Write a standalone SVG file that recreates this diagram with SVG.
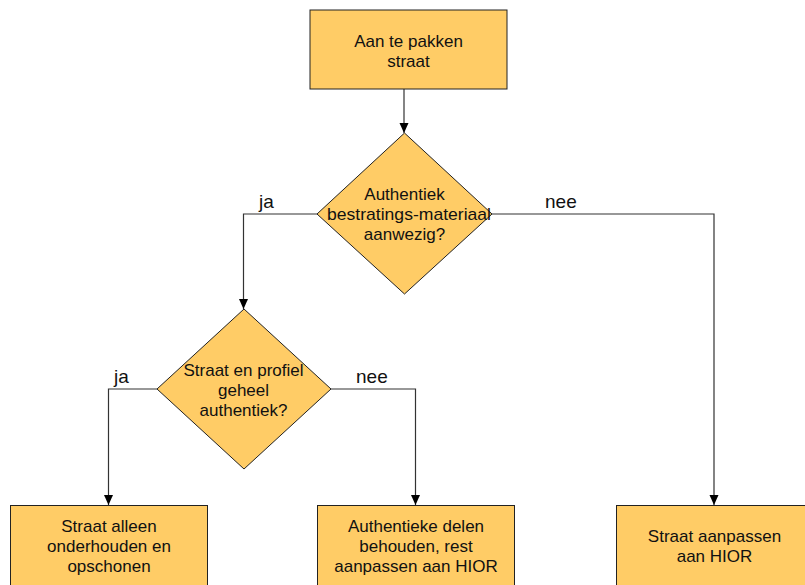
<svg xmlns="http://www.w3.org/2000/svg" width="805" height="585" viewBox="0 0 805 585">
<defs>
<style>
.box{fill:#FFCC66;stroke:#222;stroke-width:1}
.t{font-family:"Liberation Sans",Arial,sans-serif;font-size:17px;fill:#111;text-anchor:middle}
.lbl{font-family:"Liberation Sans",Arial,sans-serif;font-size:19px;fill:#111}
.c{fill:none;stroke:#333;stroke-width:1.2}
</style>
<marker id="ah" markerUnits="userSpaceOnUse" markerWidth="10" markerHeight="10" refX="10" refY="4.5" orient="auto">
<path d="M0,0 L10,4.5 L0,9 z" fill="#000"/>
</marker>
</defs>
<rect width="805" height="585" fill="#fff"/>
<g id="connectors">
<path class="c" d="M404,89 V133" marker-end="url(#ah)"/>
<path class="c" d="M317,214 H243.5 V309" marker-end="url(#ah)"/>
<path class="c" d="M492,214 H714 V505" marker-end="url(#ah)"/>
<path class="c" d="M157,389 H108.5 V505" marker-end="url(#ah)"/>
<path class="c" d="M331,389 H415.5 V505" marker-end="url(#ah)"/>
<text class="lbl" x="259" y="208">ja</text>
<text class="lbl" x="545" y="208">nee</text>
<text class="lbl" x="114" y="383">ja</text>
<text class="lbl" x="356" y="383">nee</text>
</g>
<g id="start">
<rect class="box" x="310" y="10" width="197" height="79"/>
<text class="t" x="408.5" y="47">Aan te pakken</text>
<text class="t" x="408.5" y="67">straat</text>
</g>
<g id="decision1">
<polygon class="box" points="404.5,133 492,214 404.5,294 317,214"/>
<text class="t" x="404.5" y="200">Authentiek</text>
<text class="t" x="409" y="220" textLength="164" lengthAdjust="spacingAndGlyphs">bestratings-materiaal</text>
<text class="t" x="404.5" y="240">aanwezig?</text>
</g>
<g id="decision2">
<polygon class="box" points="244,309 331,389 244,469 157,389"/>
<text class="t" x="243.5" y="376">Straat en profiel</text>
<text class="t" x="243.5" y="396">geheel</text>
<text class="t" x="243.5" y="416">authentiek?</text>
</g>
<g id="result1">
<rect class="box" x="10.5" y="505.5" width="197" height="85"/>
<text class="t" x="109" y="532">Straat alleen</text>
<text class="t" x="109" y="552">onderhouden en</text>
<text class="t" x="109" y="572">opschonen</text>
</g>
<g id="result2">
<rect class="box" x="317.5" y="505.5" width="197" height="85"/>
<text class="t" x="416" y="532">Authentieke delen</text>
<text class="t" x="416" y="552">behouden, rest</text>
<text class="t" x="416" y="572">aanpassen aan HIOR</text>
</g>
<g id="result3">
<rect class="box" x="616.5" y="505.5" width="197" height="85"/>
<text class="t" x="714.5" y="542">Straat aanpassen</text>
<text class="t" x="714.5" y="562">aan HIOR</text>
</g>
</svg>
